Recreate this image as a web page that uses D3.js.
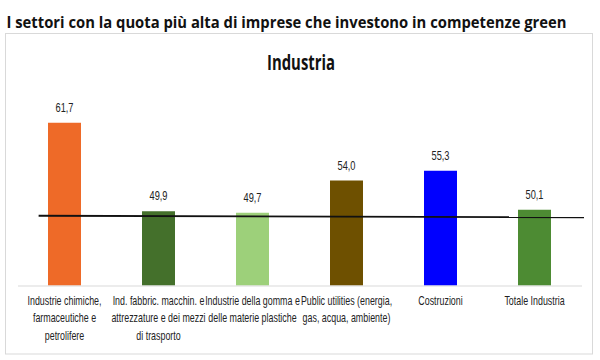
<!DOCTYPE html>
<html><head><meta charset="utf-8">
<script src="https://cdn.jsdelivr.net/npm/d3@7"></script>
<style>
body{margin:0;background:#fff;}
svg{display:block;}
</style></head>
<body>
<svg id="chart" width="600" height="360"></svg>
<script>
const categories = [
  "Industrie chimiche, farmaceutiche e petrolifere",
  "Ind. fabbric. macchin. e attrezzature e dei mezzi di trasporto",
  "Industrie della gomma e delle materie plastiche",
  "Public utilities (energia, gas, acqua, ambiente)",
  "Costruzioni",
  "Totale Industria"
];
const labelLines = [
  ["Industrie chimiche,", "farmaceutiche e", "petrolifere"],
  ["Ind. fabbric. macchin. e", "attrezzature e dei mezzi", "di trasporto"],
  ["Industrie della gomma e", "delle materie plastiche"],
  ["Public utilities (energia,", "gas, acqua, ambiente)"],
  ["Costruzioni"],
  ["Totale Industria"]
];
const values = [61.7, 49.9, 49.7, 54.0, 55.3, 50.1];
const valueLabels = ["61,7", "49,9", "49,7", "54,0", "55,3", "50,1"];
const barColors = ["#EE6A28", "#44702B", "#9DD07A", "#6E5000", "#0000FF", "#4D8B33"];
const refLine = [49.3, 49.1]; // hand-drawn reference line, left and right end values
const yDomain = [40, 70];

const svg = d3.select("#chart");
const font = "'Liberation Sans', Arial, sans-serif";
const squeeze = 0.74;

svg.append("text").attr("x", 6.5).attr("y", 28)
  .attr("font-family", "'Open Sans', 'Noto Sans', sans-serif")
  .attr("font-weight", "bold").attr("font-size", 15.5).attr("fill", "#111")
  .attr("textLength", 560).attr("lengthAdjust", "spacingAndGlyphs")
  .text("I settori con la quota più alta di imprese che investono in competenze green");

svg.append("rect").attr("x", 5.5).attr("y", 33.5).attr("width", 587).attr("height", 320.5)
  .attr("fill", "#fff").attr("stroke", "#d9d9d9").attr("stroke-width", 1);

svg.append("text").attr("x", 301).attr("y", 69.5).attr("text-anchor", "middle")
  .attr("font-family", "'Open Sans', sans-serif").attr("font-weight", "bold").attr("font-size", 21).attr("fill", "#111")
  .attr("textLength", 68).attr("lengthAdjust", "spacingAndGlyphs")
  .text("Industria");

const x = d3.scaleBand().domain(categories).range([17.5, 581.5]).paddingInner(0.649).paddingOuter(0.3245);
const y = d3.scaleLinear().domain(yDomain).range([285.5, 60.5]);

const g = svg.append("g");
g.selectAll("rect.bar").data(values).join("rect").attr("class", "bar")
  .attr("x", (d, i) => x(categories[i]))
  .attr("width", x.bandwidth())
  .attr("y", d => y(d))
  .attr("height", d => y(yDomain[0]) - y(d))
  .attr("fill", (d, i) => barColors[i]);

// baseline axis
const xAxis = d3.axisBottom(x).tickSize(0).tickFormat("");
const ax = svg.append("g").attr("transform", `translate(0,${y(yDomain[0])})`).call(xAxis);
ax.select(".domain").attr("stroke", "#d9d9d9").attr("stroke-width", 1.2);

// value labels
g.selectAll("text.val").data(values).join("text").attr("class", "val")
  .attr("transform", (d, i) => `translate(${x(categories[i]) + x.bandwidth() / 2},${y(d) - 11}) scale(${squeeze},1)`)
  .attr("text-anchor", "middle")
  .attr("font-family", font).attr("font-size", 12.5).attr("fill", "#222")
  .text((d, i) => valueLabels[i]);

// category labels
const cl = g.selectAll("text.cat").data(labelLines).join("text").attr("class", "cat")
  .attr("text-anchor", "middle")
  .attr("font-family", font).attr("font-size", 12).attr("fill", "#222")
  .attr("transform", (d, i) => `translate(${x(categories[i]) + x.bandwidth() / 2},305) scale(${squeeze},1)`);
cl.selectAll("tspan").data(d => d).join("tspan")
  .attr("x", 0).attr("dy", (d, j) => j === 0 ? 0 : 17.5).text(d => d);

// reference line
const lx0 = x(categories[0]) - x.step() * 0.1;
const lx1 = x.range()[1] + 2.5;
svg.append("line")
  .attr("x1", lx0).attr("x2", lx1)
  .attr("y1", y(refLine[0])).attr("y2", y(refLine[1]))
  .attr("stroke", "#111").attr("stroke-width", 1.8);
</script>
</body></html>
